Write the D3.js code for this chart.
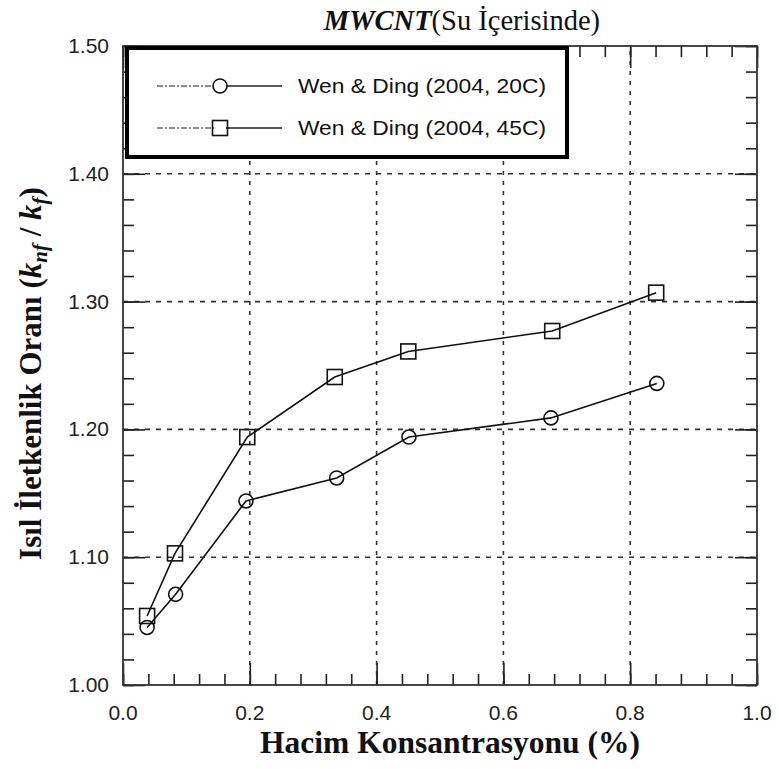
<!DOCTYPE html>
<html>
<head>
<meta charset="utf-8">
<script src="https://cdn.jsdelivr.net/npm/d3@7"></script>
<style>
  body { margin: 0; background: #fff; }
  svg { display: block; }
</style>
</head>
<body>
<div id="chart"></div>
<script>
// Data
const conc20 = [0.038, 0.083, 0.194, 0.337, 0.451, 0.675, 0.842];
const ratio20 = [1.045, 1.071, 1.144, 1.162, 1.194, 1.209, 1.236];
const conc45 = [0.038, 0.082, 0.196, 0.334, 0.45, 0.677, 0.841];
const ratio45 = [1.054, 1.103, 1.194, 1.241, 1.261, 1.277, 1.307];
const seriesNames = ["Wen & Ding (2004, 20C)", "Wen & Ding (2004, 45C)"];
const xTicks = [0, 0.2, 0.4, 0.6, 0.8, 1.0];
const yTicks = [1.0, 1.1, 1.2, 1.3, 1.4, 1.5];

const width = 779;
const height = 769;
const margin = { top: 46, right: 22, bottom: 84, left: 123 };

const x = d3.scaleLinear().domain([0, 1]).range([margin.left, width - margin.right]);
const y = d3.scaleLinear().domain([1.0, 1.5]).range([height - margin.bottom, margin.top]);

const series = [
  { name: seriesNames[0], marker: "circle", values: conc20.map((c, i) => ({ c, r: ratio20[i] })) },
  { name: seriesNames[1], marker: "square", values: conc45.map((c, i) => ({ c, r: ratio45[i] })) },
];

const svg = d3.create("svg").attr("width", width).attr("height", height);

const x0 = margin.left, x1 = width - margin.right;
const y0 = height - margin.bottom, y1 = margin.top;

// Dashed grid on major ticks (inner ones only)
const grid = svg.append("g").attr("stroke", "#333").attr("stroke-width", 1.6);
grid.selectAll(".gv").data(xTicks.slice(1, -1)).join("line")
  .attr("x1", d => x(d)).attr("x2", d => x(d)).attr("y1", y0).attr("y2", y1)
  .attr("stroke-dasharray", "4 6");
grid.selectAll(".gh").data(yTicks.slice(1, -1)).join("line")
  .attr("y1", d => y(d)).attr("y2", d => y(d)).attr("x1", x0).attr("x2", x1)
  .attr("stroke-dasharray", "5 6");

// Axes with inward ticks on all four sides
const minorX = d3.range(0, 1.0001, 0.04);
const minorY = d3.range(1.0, 1.5001, 0.02);
function inward(axis, size) { return axis.tickSizeInner(-size).tickSizeOuter(0).tickFormat(""); }

svg.append("g").attr("transform", `translate(0,${y0})`).call(inward(d3.axisBottom(x).tickValues(minorX), 11));
svg.append("g").attr("transform", `translate(0,${y1})`).call(inward(d3.axisTop(x).tickValues(minorX), 11));
svg.append("g").attr("transform", `translate(${x0},0)`).call(inward(d3.axisLeft(y).tickValues(minorY), 11));
svg.append("g").attr("transform", `translate(${x1},0)`).call(inward(d3.axisRight(y).tickValues(minorY), 11));
svg.append("g").attr("transform", `translate(0,${y0})`).call(inward(d3.axisBottom(x).tickValues(xTicks), 22));
svg.append("g").attr("transform", `translate(0,${y1})`).call(inward(d3.axisTop(x).tickValues(xTicks), 22));
svg.append("g").attr("transform", `translate(${x0},0)`).call(inward(d3.axisLeft(y).tickValues(yTicks), 22));
svg.append("g").attr("transform", `translate(${x1},0)`).call(inward(d3.axisRight(y).tickValues(yTicks), 22));
svg.selectAll(".tick line").attr("stroke", "#222").attr("stroke-width", 1.6);
svg.selectAll(".domain").remove();

// Frame
svg.append("rect")
  .attr("x", x0).attr("y", y1).attr("width", x1 - x0).attr("height", y0 - y1)
  .attr("fill", "none").attr("stroke", "#333").attr("stroke-width", 1.8);

// Tick labels
svg.append("g").selectAll("text").data(xTicks).join("text")
  .attr("x", d => x(d)).attr("y", y0 + 35)
  .attr("text-anchor", "middle")
  .attr("font-family", "Liberation Sans, Arial, sans-serif").attr("font-size", 21).attr("fill", "#222")
  .text(d => d.toFixed(1));
svg.append("g").selectAll("text").data(yTicks).join("text")
  .attr("x", x0 - 14).attr("y", d => y(d) + 7)
  .attr("text-anchor", "end")
  .attr("font-family", "Liberation Sans, Arial, sans-serif").attr("font-size", 21).attr("fill", "#222")
  .text(d => d.toFixed(2));

// Lines and markers
const line = d3.line().x(d => x(d.c)).y(d => y(d.r));
svg.append("g").selectAll("path").data(series).join("path")
  .attr("d", d => line(d.values))
  .attr("fill", "none").attr("stroke", "#111").attr("stroke-width", 1.6);

function drawMarker(g, type, cx, cy) {
  if (type === "circle") {
    g.append("circle").attr("cx", cx).attr("cy", cy).attr("r", 7)
      .attr("fill", "none").attr("stroke", "#111").attr("stroke-width", 1.6);
  } else {
    g.append("rect").attr("x", cx - 7.5).attr("y", cy - 7.5).attr("width", 15).attr("height", 15)
      .attr("fill", "none").attr("stroke", "#111").attr("stroke-width", 1.6);
  }
}
const markers = svg.append("g");
series.forEach(s => s.values.forEach(d => drawMarker(markers, s.marker, x(d.c), y(d.r))));

// Legend
const legend = svg.append("g");
legend.append("rect")
  .attr("x", 127).attr("y", 48).attr("width", 440).attr("height", 109)
  .attr("fill", "#fff").attr("stroke", "#000").attr("stroke-width", 4);
series.forEach((s, i) => {
  const ly = 86 + i * 42;
  legend.append("line").attr("x1", 157).attr("x2", 214).attr("y1", ly).attr("y2", ly)
    .attr("stroke", "#666").attr("stroke-width", 1.5).attr("stroke-dasharray", "6 2 2 2");
  legend.append("line").attr("x1", 226).attr("x2", 282).attr("y1", ly).attr("y2", ly)
    .attr("stroke", "#222").attr("stroke-width", 1.6);
  drawMarker(legend, s.marker, 220, ly);
  legend.append("text").attr("x", 298).attr("y", ly + 7)
    .attr("font-family", "Liberation Sans, Arial, sans-serif").attr("font-size", 21).attr("fill", "#111")
    .attr("textLength", 248).attr("lengthAdjust", "spacingAndGlyphs")
    .text(s.name);
});

// Title
const title = svg.append("text").attr("x", 462).attr("y", 30).attr("text-anchor", "middle")
  .attr("font-family", "Liberation Serif, Times New Roman, serif").attr("font-size", 28.5).attr("fill", "#111");
title.append("tspan").attr("font-weight", "bold").attr("font-style", "italic").text("MWCNT");
title.append("tspan").text("(Su İçerisinde)");

// X axis title
svg.append("text").attr("x", 450).attr("y", 753).attr("text-anchor", "middle")
  .attr("font-family", "Liberation Serif, Times New Roman, serif").attr("font-size", 31.5)
  .attr("font-weight", "bold").attr("fill", "#111")
  .text("Hacim Konsantrasyonu (%)");

// Y axis title
const yt = svg.append("text")
  .attr("transform", `translate(41,${(y0 + y1) / 2 + 8}) rotate(-90)`)
  .attr("text-anchor", "middle")
  .attr("font-family", "Liberation Serif, Times New Roman, serif").attr("font-size", 31)
  .attr("font-weight", "bold").attr("fill", "#111");
yt.append("tspan").text("Isıl İletkenlik Oranı (");
yt.append("tspan").attr("font-style", "italic").text("k");
yt.append("tspan").attr("font-style", "italic").attr("font-size", 21).attr("dy", 6).text("nf");
yt.append("tspan").attr("dy", -6).text(" / ");
yt.append("tspan").attr("font-style", "italic").text("k");
yt.append("tspan").attr("font-style", "italic").attr("font-size", 21).attr("dy", 6).text("f");
yt.append("tspan").attr("dy", -6).text(")");

document.getElementById("chart").appendChild(svg.node());
</script>
</body>
</html>
